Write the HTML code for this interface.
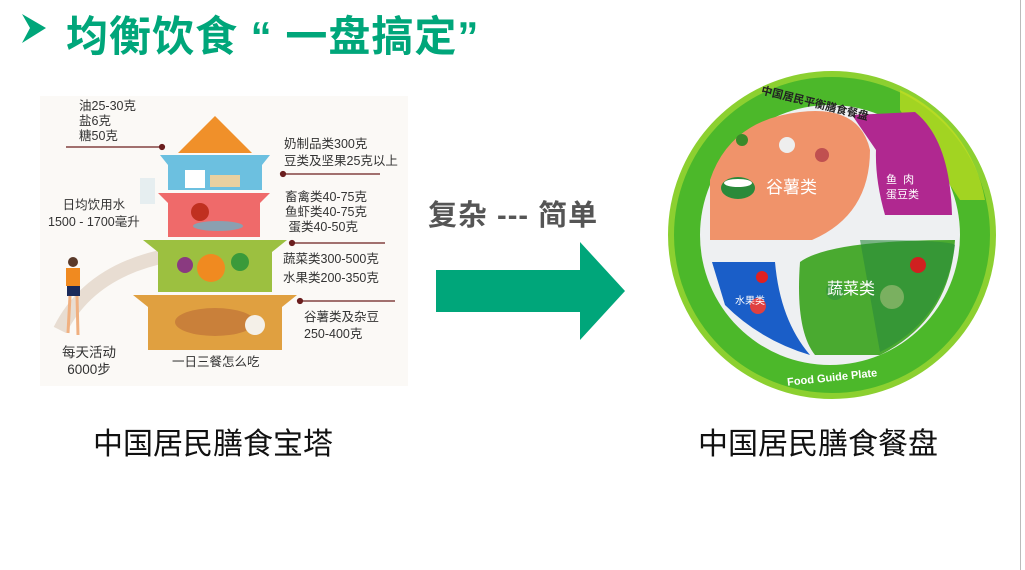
<!DOCTYPE html>
<html><head><meta charset="utf-8"><style>
html,body{margin:0;padding:0;}
body{width:1025px;height:570px;background:#fff;position:relative;overflow:hidden;font-family:"Liberation Sans","Noto Sans CJK SC",sans-serif;}
.t{position:absolute;white-space:nowrap;}
</style></head><body>
<svg width="1025" height="570" style="position:absolute;left:0;top:0">
  <polygon points="22,14 46,28 22,43 30,28" fill="#00a67a"/>
  <rect x="40" y="96" width="368" height="290" fill="#fbf9f6"/>
  <path d="M60,330 Q90,270 170,255" stroke="#e8ddd2" stroke-width="14" fill="none"/>
  <polygon points="178,153 215,116 252,153" fill="#f0902a"/>
  <path d="M160,155 L270,155 L262,165 L262,190 L168,190 L168,165 Z" fill="#6cc0e0"/>
  <path d="M158,193 L270,193 L260,203 L260,237 L168,237 L168,203 Z" fill="#ef6a6a"/>
  <path d="M143,240 L287,240 L272,252 L272,292 L158,292 L158,252 Z" fill="#9cc040"/>
  <path d="M133,295 L297,295 L282,307 L282,350 L148,350 L148,307 Z" fill="#e0a040"/>
  <circle cx="211" cy="268" r="14" fill="#f08a20"/><circle cx="185" cy="265" r="8" fill="#8a3a80"/><circle cx="240" cy="262" r="9" fill="#3a9a3a"/>
  <ellipse cx="215" cy="322" rx="40" ry="14" fill="#c9803a"/><circle cx="255" cy="325" r="10" fill="#f4f0e8"/>
  <circle cx="200" cy="212" r="9" fill="#c03020"/><ellipse cx="218" cy="226" rx="25" ry="5" fill="#8aa0b0"/>
  <rect x="185" y="170" width="20" height="18" fill="#fff"/><rect x="210" y="175" width="30" height="12" fill="#e8d0a0"/>
  <rect x="140" y="178" width="15" height="26" fill="#e6eef0"/>
  <g stroke="#6b1e1e" stroke-width="1.2" fill="#6b1e1e">
    <line x1="66" y1="147" x2="162" y2="147"/><circle cx="162" cy="147" r="2.5"/>
    <line x1="283" y1="174" x2="380" y2="174"/><circle cx="283" cy="174" r="2.5"/>
    <line x1="292" y1="243" x2="385" y2="243"/><circle cx="292" cy="243" r="2.5"/>
    <line x1="300" y1="301" x2="395" y2="301"/><circle cx="300" cy="301" r="2.5"/>
  </g>
  <circle cx="73" cy="262" r="5" fill="#5a3a2a"/><rect x="66" y="268" width="14" height="18" fill="#f08a20"/><rect x="67" y="286" width="13" height="10" fill="#1a2a5a"/>
  <line x1="70" y1="296" x2="68" y2="333" stroke="#f0b080" stroke-width="3"/><line x1="77" y1="296" x2="78" y2="335" stroke="#f0b080" stroke-width="3"/>
  <polygon points="436,270 580,270 580,242 625,291 580,340 580,312 436,312" fill="#00a67a"/>
  <circle cx="832" cy="235" r="161" fill="#4cb82a"/>
  <circle cx="832" cy="235" r="161" fill="none" stroke="#8cd030" stroke-width="6"/>
  <path d="M900,90 A150,150 0 0 1 985,200 L960,200 L900,110 Z" fill="#c8e020" opacity="0.7"/>
  <circle cx="830" cy="235" r="130" fill="#eef0f2"/>
  <path d="M710,240 L710,180 Q730,120 800,112 Q860,105 870,150 Q870,215 812,240 Z" fill="#f0936a"/>
  <path d="M852,115 L915,112 Q950,140 952,215 L885,215 Q875,180 876,150 Z" fill="#b02890"/>
  <path d="M712,262 L775,262 Q780,320 810,355 Q760,340 725,305 Z" fill="#1a5ec8"/>
  <path d="M800,262 Q830,240 955,240 Q950,320 880,355 L815,355 Q795,330 800,262 Z" fill="#4aaa30"/>
  <path d="M860,240 Q950,240 955,245 Q945,320 880,352 Z" fill="#2a8a3a" opacity="0.6"/>
  <circle cx="742" cy="140" r="6" fill="#3a8a2a"/>
  <ellipse cx="738" cy="188" rx="17" ry="11" fill="#2a8a3a"/><ellipse cx="738" cy="183" rx="14" ry="4" fill="#fff"/>
  <circle cx="787" cy="145" r="8" fill="#eee"/><circle cx="822" cy="155" r="7" fill="#c05050"/>
  <circle cx="835" cy="291" r="9" fill="#3a9a3a"/><circle cx="918" cy="265" r="8" fill="#d02020"/><circle cx="892" cy="297" r="12" fill="#7ab060"/>
  <circle cx="758" cy="306" r="8" fill="#e04040"/><circle cx="762" cy="277" r="6" fill="#e02020"/>
</svg>
<div class="t" style="left:66px;top:3px;font-size:42px;letter-spacing:1px;font-weight:bold;color:#00a67a;">均衡饮食 “ 一盘搞定”</div>
<div class="t" style="left:428px;top:192px;font-size:29px;letter-spacing:1px;font-weight:bold;color:#555;">复杂 --- 简单</div>
<div class="t" style="left:93px;top:419px;font-size:30px;color:#111;">中国居民膳食宝塔</div>
<div class="t" style="left:698px;top:419px;font-size:30px;color:#111;">中国居民膳食餐盘</div>
<div class="t" style="left:79px;top:99px;font-size:12.5px;line-height:15px;color:#333;">油25-30克<br>盐6克<br>糖50克</div>
<div class="t" style="left:284px;top:136px;font-size:12.5px;line-height:17px;color:#333;">奶制品类300克<br>豆类及坚果25克以上</div>
<div class="t" style="left:285px;top:190px;font-size:12.5px;line-height:15px;color:#333;">畜禽类40-75克<br>鱼虾类40-75克<br>&nbsp;蛋类40-50克</div>
<div class="t" style="left:48px;top:197px;font-size:12.5px;line-height:17px;color:#333;text-align:center;">日均饮用水<br>1500 - 1700毫升</div>
<div class="t" style="left:283px;top:250px;font-size:12.5px;line-height:19px;color:#333;">蔬菜类300-500克<br>水果类200-350克</div>
<div class="t" style="left:304px;top:309px;font-size:12.5px;line-height:17px;color:#333;">谷薯类及杂豆<br>250-400克</div>
<div class="t" style="left:62px;top:344px;font-size:13.5px;line-height:17px;color:#333;text-align:center;">每天活动<br>6000步</div>
<div class="t" style="left:172px;top:351px;font-size:12.5px;color:#333;">一日三餐怎么吃</div>
<div class="t" style="left:760px;top:95px;font-size:11px;font-weight:bold;color:#222;transform:rotate(14deg);">中国居民平衡膳食餐盘</div>
<div class="t" style="left:766px;top:173px;font-size:17px;color:#fff;">谷薯类</div>
<div class="t" style="left:886px;top:173px;font-size:11px;line-height:15px;color:#fff;">鱼 &nbsp;肉<br>蛋豆类</div>
<div class="t" style="left:827px;top:275px;font-size:16px;color:#fff;">蔬菜类</div>
<div class="t" style="left:735px;top:292px;font-size:10px;color:#fff;">水果类</div>
<div class="t" style="left:787px;top:372px;font-size:11px;font-weight:bold;color:#fff;transform:rotate(-6deg);">Food Guide Plate</div>
<div style="position:absolute;left:1020px;top:0;width:1px;height:570px;background:#bbb;"></div>
</body></html>
